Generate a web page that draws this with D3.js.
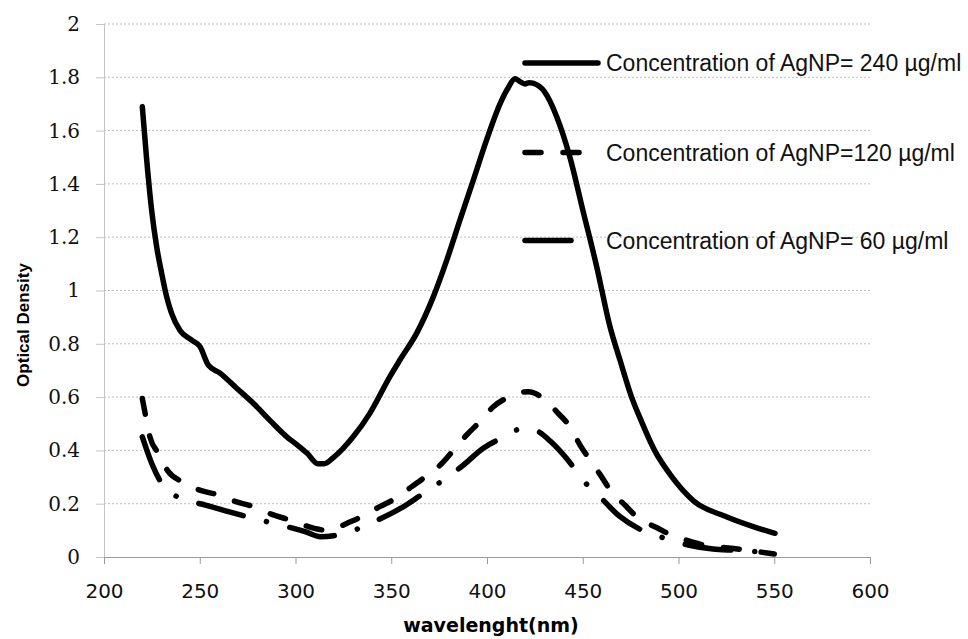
<!DOCTYPE html>
<html>
<meta charset="utf-8">
<style>
body { margin: 0; background: #fff; }
.grid line { stroke: #bdbdbd; stroke-dasharray: 2,2; }
.curve { fill: none; stroke: #000; stroke-width: 5.5; stroke-linecap: round; stroke-linejoin: round; }
.ytick text { font-family: "DejaVu Serif", serif; font-size: 20px; fill: #111; }
.xtick text { font-family: "DejaVu Sans", sans-serif; font-size: 20px; fill: #111; }
.legend text { font-family: "Liberation Sans", Arial, sans-serif; font-size: 23px; fill: #111; }
</style>
<body>
<svg id="chart" width="968" height="639"></svg>
</body>
<script src="https://cdnjs.cloudflare.com/ajax/libs/d3/7.8.5/d3.min.js"></script>
<script>
// series data: wavelength (nm) / optical density
var wl240 = [220, 222.3, 224.9, 227.5, 230.1, 232.7, 235.3, 239.7, 245.8, 250.1, 254.5, 260.6, 269, 277.8, 287, 295.6, 301, 306, 311.7, 315, 319.6, 324.5, 330, 338.9, 349.3, 354.6, 363.3, 372, 379, 385.9, 392.9, 399.8, 406.8, 411, 414.6, 417, 419.8, 422, 424, 430, 436.4, 443.3, 450.1, 457.3, 464.2, 469.4, 475.5, 480, 487.5, 495.6, 508, 525, 539, 550.4];
var od240 = [1.69, 1.49, 1.30, 1.164, 1.065, 0.977, 0.914, 0.85, 0.814, 0.79, 0.72, 0.69, 0.635, 0.578, 0.51, 0.45, 0.42, 0.39, 0.35, 0.35, 0.372, 0.405, 0.45, 0.54, 0.677, 0.74, 0.84, 0.977, 1.114, 1.265, 1.415, 1.565, 1.70, 1.76, 1.795, 1.785, 1.775, 1.78, 1.778, 1.746, 1.652, 1.50, 1.30, 1.089, 0.865, 0.74, 0.60, 0.52, 0.40, 0.31, 0.21, 0.151, 0.114, 0.089];

var wl120 = [220, 222, 224, 228.4, 233.6, 240.6, 250, 259.7, 269.3, 278, 288.4, 297, 306.7, 315.4, 320, 326.7, 334.5, 344, 352, 360.7, 367.6, 376.3, 382.4, 389.4, 396.3, 403.3, 411.2, 416, 421.6, 429.4, 437.2, 443.3, 448.6, 453.8, 459, 465, 472, 479, 489, 496, 507, 515, 526, 550];
var od120 = [0.595, 0.52, 0.45, 0.389, 0.32, 0.283, 0.251, 0.233, 0.207, 0.189, 0.158, 0.139, 0.114, 0.101, 0.105, 0.126, 0.151, 0.189, 0.219, 0.264, 0.30, 0.35, 0.40, 0.458, 0.508, 0.564, 0.60, 0.615, 0.62, 0.595, 0.539, 0.489, 0.42, 0.364, 0.31, 0.245, 0.195, 0.146, 0.109, 0.083, 0.057, 0.041, 0.034, 0.011];

var wl60 = [220, 225, 230, 240, 253, 265, 278, 292, 305, 313, 320, 330, 343, 355, 365, 376, 387, 398, 410, 416, 421, 427, 433, 442, 450, 454, 459, 469, 481, 493, 505, 518, 530, 550];
var od60 = [0.451, 0.35, 0.277, 0.22, 0.195, 0.17, 0.145, 0.12, 0.095, 0.076, 0.08, 0.099, 0.139, 0.183, 0.23, 0.283, 0.341, 0.408, 0.455, 0.478, 0.483, 0.47, 0.435, 0.366, 0.29, 0.258, 0.225, 0.154, 0.10, 0.07, 0.045, 0.03, 0.025, 0.015];

var legendLabels = ["Concentration of AgNP= 240 \u00b5g/ml", "Concentration of AgNP=120 \u00b5g/ml", "Concentration of AgNP= 60 \u00b5g/ml"];
var xTicks = [200, 250, 300, 350, 400, 450, 500, 550, 600];
var yTicks = [0, 0.2, 0.4, 0.6, 0.8, 1, 1.2, 1.4, 1.6, 1.8, 2];

var dashes = [null, "16 22", "46 24 0.1 24"];

var svg = d3.select("#chart");
var x = d3.scaleLinear().domain([200, 600]).range([104, 870]);
var y = d3.scaleLinear().domain([0, 2]).range([557, 24]);

// gridlines
svg.append("g").attr("class", "grid")
  .selectAll("line").data(yTicks.slice(1)).enter().append("line")
    .attr("x1", x(200)).attr("x2", x(600))
    .attr("y1", function(d) { return y(d); }).attr("y2", function(d) { return y(d); });

// y axis
var yAxis = svg.append("g").attr("class", "ytick")
  .attr("transform", "translate(" + x(200) + ",0)")
  .call(d3.axisLeft(y).tickValues(yTicks).tickSize(8).tickPadding(16)
    .tickFormat(function(d) { return d3.format("")(+d.toFixed(1)); }));
yAxis.select(".domain").attr("stroke", "#c4c4c4");
yAxis.selectAll(".tick line").attr("stroke", "#c4c4c4");

// x axis
var xAxis = svg.append("g").attr("class", "xtick")
  .attr("transform", "translate(0," + y(0) + ")")
  .call(d3.axisBottom(x).tickValues(xTicks).tickSize(7).tickSizeOuter(7).tickPadding(20));
xAxis.select(".domain").attr("stroke", "#9a9a9a");
xAxis.selectAll(".tick line").attr("stroke", "#9a9a9a");

// curves
var line = d3.line()
  .x(function(d) { return x(d[0]); })
  .y(function(d) { return y(d[1]); })
  .curve(d3.curveMonotoneX);

var series = [d3.zip(wl240, od240), d3.zip(wl120, od120), d3.zip(wl60, od60)];
series.forEach(function(s, i) {
  svg.append("path").attr("class", "curve")
    .attr("d", line(s))
    .attr("stroke-dasharray", dashes[i]);
});

// legend
var legendY = [63, 152.5, 240.5];
var lg = svg.append("g").attr("class", "legend");
legendLabels.forEach(function(t, i) {
  lg.append("line").attr("class", "curve")
    .attr("x1", 525).attr("x2", i == 0 ? 598 : (i == 1 ? 580 : 575))
    .attr("y1", legendY[i]).attr("y2", legendY[i])
    .attr("stroke-dasharray", dashes[i]);
  lg.append("text").attr("x", 606).attr("y", legendY[i] + 8).text(t);
});

// axis titles
svg.append("text")
  .attr("x", 491).attr("y", 632)
  .attr("text-anchor", "middle")
  .style("font-family", "'DejaVu Sans', sans-serif")
  .style("font-weight", "bold").style("font-size", "19px")
  .text("wavelenght(nm)");

svg.append("text")
  .attr("transform", "translate(29,325) rotate(-90)")
  .attr("text-anchor", "middle")
  .style("font-family", "'Liberation Sans', Arial, sans-serif")
  .style("font-weight", "bold").style("font-size", "17px")
  .text("Optical Density");
</script>
</html>
